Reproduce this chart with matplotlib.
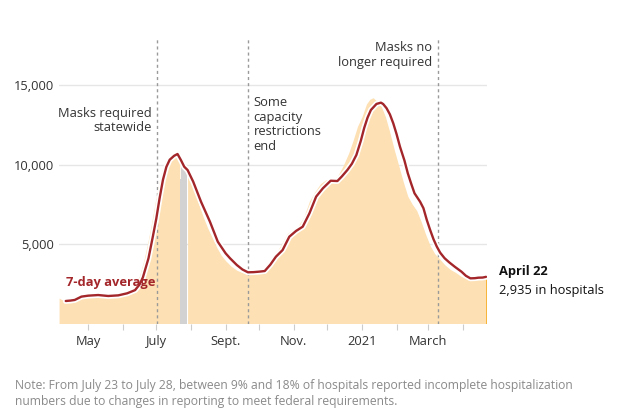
import matplotlib
matplotlib.use("Agg")
import matplotlib.pyplot as plt
import matplotlib.patheffects as pe
import pandas as pd

# ---------------- data ----------------
avg_dates = ["2020-04-11", "2020-04-15", "2020-04-19", "2020-04-25", "2020-05-01", "2020-05-10",
             "2020-05-19", "2020-05-28", "2020-06-05", "2020-06-12", "2020-06-16", "2020-06-19",
             "2020-06-24", "2020-06-28", "2020-07-01", "2020-07-04", "2020-07-07", "2020-07-10",
             "2020-07-13", "2020-07-17", "2020-07-20", "2020-07-23", "2020-07-26", "2020-07-29",
             "2020-08-03", "2020-08-10", "2020-08-18", "2020-08-25", "2020-09-01", "2020-09-05",
             "2020-09-11", "2020-09-16", "2020-09-21", "2020-09-26", "2020-10-01", "2020-10-06",
             "2020-10-11", "2020-10-16", "2020-10-22", "2020-10-28", "2020-11-03", "2020-11-09",
             "2020-11-15", "2020-11-21", "2020-11-27", "2020-12-04", "2020-12-10", "2020-12-14",
             "2020-12-19", "2020-12-23", "2020-12-27", "2020-12-31", "2021-01-03", "2021-01-06",
             "2021-01-09", "2021-01-14", "2021-01-18", "2021-01-20", "2021-01-23", "2021-01-26",
             "2021-01-29", "2021-02-01", "2021-02-04", "2021-02-08", "2021-02-11", "2021-02-14",
             "2021-02-17", "2021-02-22", "2021-02-25", "2021-02-28", "2021-03-03", "2021-03-06",
             "2021-03-09", "2021-03-12", "2021-03-16", "2021-03-20", "2021-03-25", "2021-03-31",
             "2021-04-04", "2021-04-08", "2021-04-12", "2021-04-15", "2021-04-19", "2021-04-22"]
avg_values = [1415, 1440, 1480, 1690, 1750, 1790,
              1730, 1770, 1900, 2100, 2450, 2900,
              4100, 5500, 6600, 7900, 9050, 9850,
              10300, 10550, 10660, 10280, 9860, 9650,
              8920, 7660, 6400, 5145, 4415, 4100,
              3680, 3400, 3220, 3230, 3260, 3300,
              3700, 4200, 4620, 5460, 5820, 6090,
              6930, 7980, 8500, 8980, 8960, 9250,
              9660, 10050, 10600, 11500, 12300, 12950,
              13430, 13810, 13890, 13800, 13540, 13150,
              12590, 11900, 11120, 10250, 9450, 8800,
              8190, 7660, 7250, 6510, 5880, 5300,
              4830, 4450, 4100, 3850, 3570, 3260,
              3000, 2840, 2850, 2880, 2890, 2935]

daily_dates = ["2020-04-05", "2020-04-08", "2020-04-12", "2020-04-16", "2020-04-20", "2020-04-25",
               "2020-05-01", "2020-05-06", "2020-05-12", "2020-05-18", "2020-05-24", "2020-05-30",
               "2020-06-04", "2020-06-08", "2020-06-12", "2020-06-16", "2020-06-20", "2020-06-24",
               "2020-06-27", "2020-06-30", "2020-07-03", "2020-07-06", "2020-07-09", "2020-07-12",
               "2020-07-15", "2020-07-18", "2020-07-21", "2020-07-22",
               "2020-07-29", "2020-08-01", "2020-08-04", "2020-08-08", "2020-08-12", "2020-08-16",
               "2020-08-20", "2020-08-24", "2020-08-28", "2020-09-01", "2020-09-06", "2020-09-11",
               "2020-09-16", "2020-09-21", "2020-09-26", "2020-10-01", "2020-10-06", "2020-10-11",
               "2020-10-16", "2020-10-21", "2020-10-26", "2020-10-31", "2020-11-05", "2020-11-10",
               "2020-11-15", "2020-11-20", "2020-11-25", "2020-11-30", "2020-12-05", "2020-12-10",
               "2020-12-15", "2020-12-20", "2020-12-24", "2020-12-28", "2021-01-01", "2021-01-05",
               "2021-01-08", "2021-01-11", "2021-01-14", "2021-01-18", "2021-01-22", "2021-01-26",
               "2021-01-30", "2021-02-03", "2021-02-07", "2021-02-11", "2021-02-15", "2021-02-19",
               "2021-02-23", "2021-02-27", "2021-03-03", "2021-03-07", "2021-03-11", "2021-03-16",
               "2021-03-21", "2021-03-26", "2021-03-31", "2021-04-05", "2021-04-10", "2021-04-15",
               "2021-04-20", "2021-04-22"]
daily_values = [1600, 1480, 1520, 1620, 1720, 1780,
                1780, 1800, 1770, 1720, 1760, 1820,
                1980, 2150, 2450, 3000, 4000, 5300,
                6400, 7600, 8700, 9600, 10200, 10500,
                10650, 10750, 10850, 10700,
                9600, 9100, 8500, 7500, 6700, 6000,
                5400, 4800, 4300, 3950, 3600, 3350,
                3200, 3150, 3250, 3280, 3500, 3950,
                4400, 5000, 5650, 5900, 6150, 6700,
                7700, 8300, 8800, 9050, 8950, 9250,
                9900, 10700, 11500, 12400, 13000, 13800,
                14100, 14200, 14000, 13700, 13000, 12000,
                10900, 9900, 8900, 8000, 7500, 7100,
                6400, 5600, 4900, 4400, 4100, 3700,
                3400, 3200, 2950, 2850, 2850, 2900,
                2950, 2935]

# incomplete-reporting days (grey bars)
gray_dates = ["2020-07-23", "2020-07-24", "2020-07-25", "2020-07-26", "2020-07-27", "2020-07-28"]
gray_values = [9100, 10100, 10100, 10050, 10050, 10000]

event_dates = ["2020-07-02", "2020-09-21", "2021-03-10"]
event_labels = ["Masks required\nstatewide", "Some\ncapacity\nrestrictions\nend",
                "Masks no\nlonger required"]

major_tick_dates = ["2020-05-01", "2020-07-01", "2020-09-01", "2020-11-01", "2021-01-01", "2021-03-01"]
major_tick_labels = ["May", "July", "Sept.", "Nov.", "2021", "March"]
minor_tick_dates = ["2020-06-01", "2020-08-01", "2020-10-01", "2020-12-01", "2021-02-01", "2021-04-01"]
y_ticks = [5000, 10000, 15000]

last_label = "April 22"
last_value_label = "2,935 in hospitals"
note = ("Note: From July 23 to July 28, between 9% and 18% of hospitals reported incomplete hospitalization\n"
        "numbers due to changes in reporting to meet federal requirements.")

# ---------------- style ----------------
FONT = ["Open Sans", "DejaVu Sans"]
plt.rcParams["font.family"] = FONT
FILL = "#fde0b3"
LINE = "#a3262a"
TXT = "#333333"

fig = plt.figure(figsize=(6.19, 4.09), dpi=100)
ax = fig.add_axes([58.5 / 619, 1 - 323.5 / 409, 428.1 / 619, 286.2 / 409])

ad = pd.to_datetime(avg_dates)
dd = pd.to_datetime(daily_dates)
gd = pd.to_datetime(gray_dates)
ed = pd.to_datetime(event_dates)

gap_start = pd.Timestamp("2020-07-22")
pre = dd <= gap_start
post = dd > gap_start
dv = pd.Series(daily_values, index=dd)
ax.fill_between(dd[pre], dv[pre].values, 0, color=FILL, lw=0, zorder=1)
ax.fill_between(dd[post], dv[post].values, 0, color=FILL, lw=0, zorder=1)
ax.bar(gd, gray_values, width=1.0, color="#d2d2d2", lw=0, zorder=1)
# last day highlighted
ax.bar(dd[-1:], daily_values[-1:], width=0.9, color="#f7b53b", lw=0, zorder=1.5)

for d in ed:
    ax.axvline(d, color="#9a9a9a", lw=1.0, ls=(0, (2.2, 2.2)), zorder=2)

ax.plot(ad, avg_values, color=LINE, lw=1.7, zorder=4, solid_capstyle="round",
        solid_joinstyle="round",
        path_effects=[pe.Stroke(linewidth=4.2, foreground="white"), pe.Normal()])

ax.set_xlim(pd.Timestamp("2020-04-04 12:00"), pd.Timestamp("2021-04-22 12:00"))
ax.set_ylim(0, 18000)

ax.set_yticks(y_ticks)
ax.set_yticklabels([f"{v:,}" for v in y_ticks])
ax.yaxis.grid(True, color="#e6e6e6", lw=1.0, zorder=0)
ax.set_axisbelow(True)
ax.tick_params(axis="y", length=0, pad=3.5, labelsize=9.3, labelcolor=TXT)

ax.set_xticks(pd.to_datetime(major_tick_dates))
ax.set_xticklabels(major_tick_labels)
ax.set_xticks(pd.to_datetime(minor_tick_dates), minor=True)
ax.tick_params(axis="x", which="both", length=4, width=0.8, color="#cccccc",
               pad=4, labelsize=9.3, labelcolor=TXT)
for s in ax.spines.values():
    s.set_visible(False)

# annotations
ax.annotate(event_labels[0], xy=(ed[0], 12770), xytext=(-4, 0), textcoords="offset points",
            ha="right", va="center", fontsize=9.3, color=TXT, linespacing=1.15,
            multialignment="right")
ax.annotate(event_labels[1], xy=(ed[1], 12530), xytext=(4, 0), textcoords="offset points",
            ha="left", va="center", fontsize=9.3, color=TXT, linespacing=1.15,
            multialignment="left")
ax.annotate(event_labels[2], xy=(ed[2], 16890), xytext=(-4, 0), textcoords="offset points",
            ha="right", va="center", fontsize=9.3, color=TXT, linespacing=1.15,
            multialignment="right")

ax.text(ad[0], 2570, "7-day average", ha="left", va="center", fontsize=9.3,
        fontweight="bold", color=LINE, zorder=5)

ax.annotate(last_label, xy=(ad[-1], avg_values[-1]), xytext=(9.5, 3.5),
            textcoords="offset points", ha="left", va="center", fontsize=9.3,
            fontweight="bold", color="#111111", annotation_clip=False)
ax.annotate(last_value_label, xy=(ad[-1], avg_values[-1]), xytext=(9.5, -9.5),
            textcoords="offset points", ha="left", va="center", fontsize=9.3,
            color="#111111", annotation_clip=False)

fig.text(15 / 619, 1 - 393.5 / 409, note, ha="left", va="center", fontsize=8.7,
         color="#8a8a8a", linespacing=1.4,
         family=["Liberation Sans Narrow", "Open Sans", "DejaVu Sans"])

fig.savefig("out.png", dpi=100)
